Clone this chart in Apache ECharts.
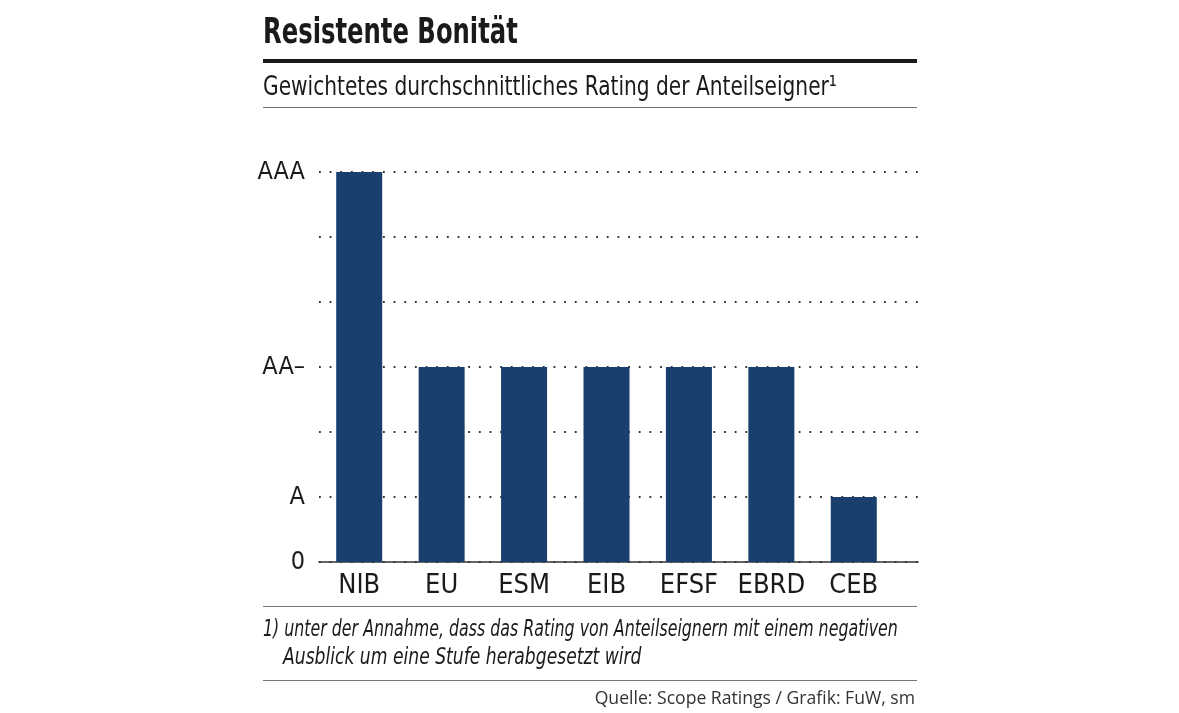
<!DOCTYPE html>
<html><head><meta charset="utf-8">
<script src="https://cdn.jsdelivr.net/npm/echarts@6/dist/echarts.min.js"></script>
<style>html,body{margin:0;padding:0;background:#fff}#c{width:1179px;height:713px}</style>
</head><body><div id="c"></div>
<script>
const categories = ['NIB','EU','ESM','EIB','EFSF','EBRD','CEB'];
const ratingValues = [6, 3, 3, 3, 3, 3, 1];
const tickLabels = {0:'0', 1:'A', 3:'AA\u2013', 6:'AAA'};
const titleText = 'Resistente Bonität';
const subtitleText = 'Gewichtetes durchschnittliches Rating der Anteilseigner\u00B9';
const footLine1 = '1) unter der Annahme, dass das Rating von Anteilseignern mit einem negativen';
const footLine2 = 'Ausblick um eine Stufe herabgesetzt wird';
const sourceText = 'Quelle: Scope Ratings / Grafik: FuW, sm';

const NARROW = '"Liberation Sans Narrow", "DejaVu Sans Condensed", sans-serif';
const chart = echarts.init(document.getElementById('c'), null, {renderer:'canvas'});
chart.setOption({
  animation:false,
  backgroundColor:'#fff',
  grid:[
    {left:319, right:1179-918, top:172, bottom:713-562, containLabel:false},
    {left:318, width:577, top:172, bottom:713-562, containLabel:false}
  ],
  xAxis:[
    {gridIndex:0, type:'value', min:0, max:1, show:true,
     axisLine:{show:true, onZero:false, lineStyle:{color:'#333', width:1.5}},
     axisTick:{show:false}, axisLabel:{show:false}, splitLine:{show:false}},
    {gridIndex:1, type:'category', data:categories,
     axisLine:{show:false}, axisTick:{show:false},
     axisLabel:{color:'#1a1a1a', fontFamily:NARROW, fontSize:27, margin:10, interval:0}}
  ],
  yAxis:[
    {gridIndex:0, type:'value', min:0, max:6, interval:1,
     axisLine:{show:false}, axisTick:{show:false},
     axisLabel:{color:'#1a1a1a', fontFamily:NARROW, fontSize:25, margin:14,
       formatter:v => tickLabels[v] !== undefined ? tickLabels[v] : ''},
     splitLine:{show:true, lineStyle:{color:'#333', width:2, type:[1.8, 8.86]}}},
    {gridIndex:1, type:'value', min:0, max:6, interval:1, show:false, splitLine:{show:false}}
  ],
  series:[{
    type:'bar', xAxisIndex:1, yAxisIndex:1, data:ratingValues,
    barWidth:46, itemStyle:{color:'#183f6e'}, z:5
  }],
  graphic:[
    {type:'text', x:263, y:16, scaleX:0.75, style:{text:titleText, font:'bold 36px '+NARROW, fill:'#1a1a1a', textVerticalAlign:'top'}},
    {type:'rect', shape:{x:263, y:59, width:654, height:4}, style:{fill:'#1a1a1a'}},
    {type:'text', x:263, y:74, scaleX:0.83, style:{text:subtitleText, font:'27px '+NARROW, fill:'#1a1a1a', textVerticalAlign:'top'}},
    {type:'rect', shape:{x:263, y:107, width:654, height:1}, style:{fill:'#777'}},
    {type:'rect', shape:{x:263, y:606, width:654, height:1}, style:{fill:'#777'}},
    {type:'text', x:263, y:619, scaleX:0.765, style:{text:footLine1, font:'italic 23px '+NARROW, fill:'#1a1a1a', textVerticalAlign:'top'}},
    {type:'text', x:283, y:647, scaleX:0.83, style:{text:footLine2, font:'italic 23px '+NARROW, fill:'#1a1a1a', textVerticalAlign:'top'}},
    {type:'rect', shape:{x:263, y:680, width:654, height:1}, style:{fill:'#777'}},
    {type:'text', x:915, y:690, style:{text:sourceText, font:'17.6px "Open Sans", sans-serif', fill:'#333', align:'right', textAlign:'right', textVerticalAlign:'top'}}
  ]
});
</script></body></html>
